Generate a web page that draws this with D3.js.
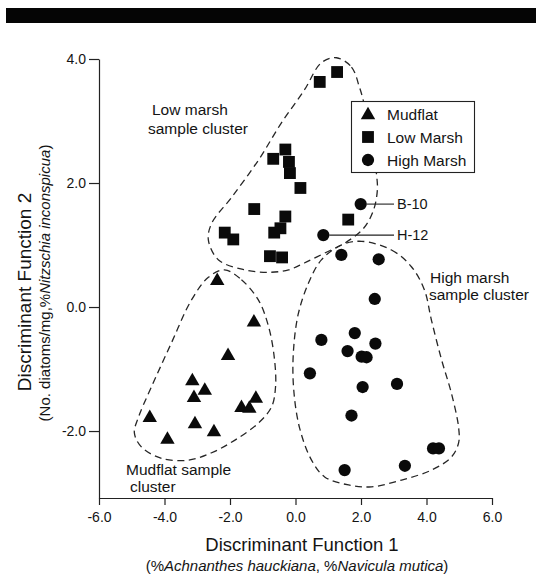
<!DOCTYPE html>
<html><head><meta charset="utf-8">
<script src="https://cdn.jsdelivr.net/npm/d3@7"></script>
<style>
html,body{margin:0;padding:0;background:#fff;}
svg{display:block;font-family:"Liberation Sans",Arial,Helvetica,sans-serif;}
</style></head>
<body><svg id="c" width="536" height="574"></svg>
<script>
// ---- data ----
const xTicks = [-6, -4, -2, 0, 2, 4, 6];
const yTicks = [-2, 0, 2, 4];
const mudflat = [[-2.39,0.44],[-1.27,-0.23],[-2.06,-0.77],[-3.15,-1.18],[-2.77,-1.33],[-3.1,-1.45],[-1.21,-1.46],[-1.65,-1.61],[-1.41,-1.62],[-4.45,-1.77],[-3.07,-1.87],[-2.49,-2.0],[-3.91,-2.12]];
const lowMarsh = [[0.74,3.63],[1.27,3.79],[-0.68,2.39],[-0.31,2.54],[-0.2,2.34],[-0.17,2.16],[0.15,1.92],[-1.26,1.58],[-0.31,1.46],[-0.46,1.27],[-0.65,1.2],[-2.16,1.2],[-1.9,1.09],[1.61,1.41],[-0.78,0.82],[-0.41,0.8]];
const highMarsh = [[1.99,1.66],[0.85,1.16],[1.4,0.84],[2.54,0.77],[2.42,0.13],[1.81,-0.42],[0.79,-0.53],[2.44,-0.59],[1.59,-0.71],[2.02,-0.8],[2.17,-0.81],[0.44,-1.07],[2.05,-1.29],[3.1,-1.24],[1.71,-1.75],[4.2,-2.28],[4.38,-2.28],[1.5,-2.63],[3.34,-2.56]];
const labelled = [{name:"B-10", p:[1.99,1.66]}, {name:"H-12", p:[0.85,1.16]}];
const lowOutline = [[1.25,4.02],[1.71,3.87],[1.95,3.55],[2.08,3.31],[2.38,2.53],[2.47,2.16],[2.50,1.89],[2.38,1.56],[2.08,1.27],[1.50,1.03],[0.89,0.87],[0.27,0.71],[-0.21,0.60],[-0.82,0.56],[-1.56,0.60],[-2.35,0.76],[-2.66,1.08],[-2.56,1.35],[-1.95,1.77],[-1.13,2.37],[-0.43,2.97],[0.27,3.50],[0.79,3.94]];
const mudOutline = [[-2.17,0.60],[-1.65,0.44],[-1.13,0.11],[-0.82,-0.32],[-0.64,-0.85],[-0.61,-1.29],[-0.73,-1.61],[-1.13,-1.87],[-1.86,-2.15],[-2.56,-2.35],[-3.27,-2.47],[-4.09,-2.44],[-4.70,-2.26],[-4.92,-2.03],[-4.79,-1.77],[-4.40,-1.29],[-3.79,-0.58],[-3.18,0.11],[-2.66,0.48]];
const highOutline = [[2.02,1.06],[2.93,0.92],[3.54,0.65],[3.94,0.27],[4.15,-0.21],[4.46,-0.85],[4.76,-1.39],[4.98,-1.94],[4.98,-2.19],[4.76,-2.42],[4.15,-2.63],[3.24,-2.79],[2.32,-2.90],[1.62,-2.87],[0.89,-2.74],[0.49,-2.47],[0.12,-1.94],[-0.06,-1.29],[-0.06,-0.69],[0.09,-0.10],[0.40,0.39],[0.79,0.76],[1.40,1.00]];
const legendItems = ["Mudflat", "Low Marsh", "High Marsh"];

// ---- chart ----
const svg = d3.select("#c");
const ink = "#141414";
svg.append("rect").attr("x",6).attr("y",8).attr("width",530).attr("height",15).attr("fill","#050505");

const x = d3.scaleLinear().domain([-6, 6]).range([99, 492]);
const y = d3.scaleLinear().domain([-3.08, 4]).range([498, 59]);

const fmt = d => d.toFixed(1);
const gx = svg.append("g").attr("transform","translate(0,498)")
  .call(d3.axisBottom(x).tickValues(xTicks).tickFormat(fmt).tickSize(7).tickPadding(7).tickSizeOuter(0));
const gy = svg.append("g").attr("transform","translate(99,0)")
  .call(d3.axisLeft(y).tickValues(yTicks).tickFormat(fmt).tickSize(10).tickPadding(3).tickSizeOuter(0));
[gx, gy].forEach(g => {
  g.selectAll("path,line").attr("stroke", "#222").attr("stroke-width", 1.2);
  g.selectAll("text").attr("fill", ink).style("font-size","14px").style("font-family","'Liberation Sans',Arial,sans-serif");
});

// outlines
const line = d3.line().x(d => x(d[0])).y(d => y(d[1])).curve(d3.curveCatmullRomClosed.alpha(0.5));
[lowOutline, mudOutline, highOutline].forEach(o => {
  svg.append("path").attr("d", line(o)).attr("fill","none").attr("stroke","#262626")
    .attr("stroke-width",1.3).attr("stroke-dasharray","7,4.5");
});

// leader lines for labelled points
labelled.forEach(l => {
  svg.append("line").attr("x1", x(l.p[0]) + 6).attr("x2", 394)
    .attr("y1", y(l.p[1])).attr("y2", y(l.p[1])).attr("stroke","#222").attr("stroke-width",1.1);
  svg.append("text").attr("x", 397).attr("y", y(l.p[1]) + 5).text(l.name)
    .attr("fill", ink).style("font-size","14.5px");
});

// points
const shapes = [d3.symbolTriangle, d3.symbolSquare, d3.symbolCircle];
const sizes = [90, 140, 118];
[mudflat, lowMarsh, highMarsh].forEach((arr, i) => {
  svg.append("g").selectAll("path").data(arr).join("path")
    .attr("d", d3.symbol().type(shapes[i]).size(sizes[i]))
    .attr("transform", d => `translate(${x(d[0])},${y(d[1]) + (i===0 ? 1 : 0)})`)
    .attr("fill", "#0a0a0a");
});

// legend
const lg = svg.append("g");
lg.append("rect").attr("x",351.5).attr("y",101.5).attr("width",123).attr("height",71)
  .attr("fill","#fff").attr("stroke","#222").attr("stroke-width",1.1);
legendItems.forEach((t, i) => {
  const yy = 114 + i * 23;
  lg.append("path").attr("d", d3.symbol().type(shapes[i]).size(sizes[i])())
    .attr("transform", `translate(368,${yy + (i===0?1:0)})`).attr("fill","#0a0a0a");
  lg.append("text").attr("x", 387).attr("y", yy + 5.5).text(t).attr("fill", ink).style("font-size","15.5px");
});

// cluster labels
function multi(lines, x0, y0, lh) {
  const t = svg.append("text").attr("fill", ink).style("font-size","15.5px");
  lines.forEach((s, i) => t.append("tspan").attr("x", x0[i]).attr("y", y0 + i * lh).text(s));
}
multi(["Low marsh", "sample cluster"], [152, 148], 115, 19);
multi(["High marsh", "sample cluster"], [430, 429], 283, 17);
multi(["Mudflat sample", "cluster"], [126, 130], 475, 17);

// axis titles
svg.append("text").attr("x", 302).attr("y", 551).attr("text-anchor","middle")
  .attr("fill", ink).style("font-size","18.5px").text("Discriminant Function 1");
const sub = svg.append("text").attr("x", 297).attr("y", 571).attr("text-anchor","middle")
  .attr("fill", ink).style("font-size","15px");
sub.append("tspan").text("(%");
sub.append("tspan").style("font-style","italic").text("Achnanthes hauckiana");
sub.append("tspan").text(", %");
sub.append("tspan").style("font-style","italic").text("Navicula mutica");
sub.append("tspan").text(")");

svg.append("text").attr("transform","translate(31,292) rotate(-90)").attr("text-anchor","middle")
  .attr("fill", ink).style("font-size","19px").text("Discriminant Function 2");
const suby = svg.append("text").attr("transform","translate(50,283) rotate(-90)").attr("text-anchor","middle")
  .attr("fill", ink).style("font-size","15px");
suby.append("tspan").text("(No. diatoms/mg,%");
suby.append("tspan").style("font-style","italic").text("Nitzschia inconspicua");
suby.append("tspan").text(")");
</script></body></html>
